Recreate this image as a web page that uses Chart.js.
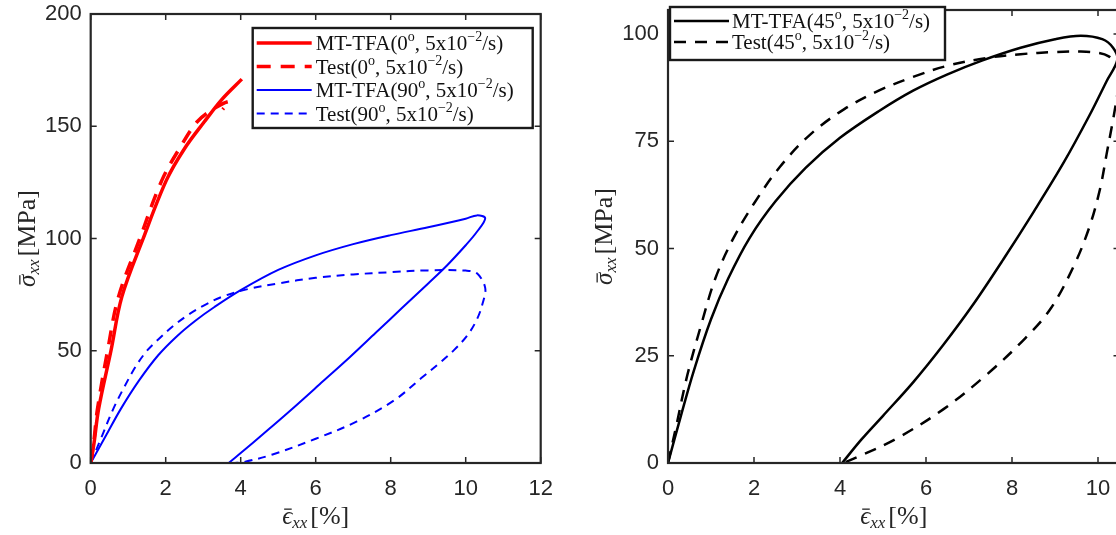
<!DOCTYPE html>
<html>
<head>
<meta charset="utf-8">
<script src="https://cdn.jsdelivr.net/npm/chart.js@4.4.0/dist/chart.umd.min.js"></script>
<style>
    html, body { margin: 0; padding: 0; background: #fff; overflow: hidden; width: 1116px; height: 535px; }
    canvas { position: absolute; top: 0; }
    #left { left: 0; }
    #right { left: 560px; }
</style>
</head>
<body>
<canvas id="left" width="560" height="535"></canvas>
<canvas id="right" width="580" height="535"></canvas>
<script>
// tick labels
const xTicksLeft = [0, 2, 4, 6, 8, 10, 12]
const yTicksLeft = [0, 50, 100, 150, 200]
const xTicksRight = [0, 2, 4, 6, 8, 10]
const yTicksRight = [0, 25, 50, 75, 100]

// series names (^{..} = superscript)
const namesLeft = [
    'MT-TFA(0^{o}, 5x10^{−2}/s)',
    'Test(0^{o}, 5x10^{−2}/s)',
    'MT-TFA(90^{o}, 5x10^{−2}/s)',
    'Test(90^{o}, 5x10^{−2}/s)',
]
const namesRight = [
    'MT-TFA(45^{o}, 5x10^{−2}/s)',
    'Test(45^{o}, 5x10^{−2}/s)',
]

// 0 deg
const mt0X = [0, 0.09, 0.21, 0.54, 0.83, 1.4, 2.02, 2.5, 3.03, 3.5, 4.03]
const mt0Y = [0, 9, 24, 50, 74, 100, 126, 140, 152, 162, 171]
const test0X = [0, 0.08, 0.18, 0.45, 0.74, 1.31, 1.9, 2.4, 2.84, 3.3, 3.69, 3.52]
const test0Y = [0, 9, 24, 50, 74, 100, 126, 141, 152, 158, 161, 157.5]

// 90 deg
const mt90X = [0, 0.4, 0.8, 1.3, 1.8, 2.3, 2.8, 3.3, 4.0, 5.0, 6.0, 7.0, 8.0, 9.0, 10.0, 10.3, 10.52, 10.3, 10.0, 9.5, 9.0, 8.3, 7.6, 6.9, 6.2, 5.5, 4.8, 4.2, 3.68]
const mt90Y = [0, 12, 24, 37, 48, 56.5, 63.5, 69.5, 77, 86, 92.5, 97.5, 101.5, 105, 108.8, 110.3, 109, 103, 97, 88, 80, 69, 58, 47, 36.5, 26, 15.8, 7.2, 0]
const test90X = [0, 0.3, 0.6, 0.9, 1.2, 1.5, 1.8, 2.2, 2.6, 3.0, 3.5, 4.2, 5.0, 6.0, 7.0, 8.0, 9.0, 10.0, 10.3, 10.52, 10.45, 10.3, 10.05, 9.7, 9.3, 8.85, 8.1, 7.1, 6.0, 4.85, 4.1, 3.8]
const test90Y = [0, 12, 24, 34, 43, 50, 55, 61, 66, 70, 74, 77.5, 80, 82.5, 84, 85, 85.8, 85.7, 84.5, 78, 71, 64, 57, 50.5, 44.5, 38.3, 28, 18.5, 10.8, 3.8, 0.5, 0]

// 45 deg
const mt45X = [0, 0.3, 0.6, 1.0, 1.4, 1.9, 2.5, 3.2, 4.0, 4.9, 5.7, 6.5, 7.3, 8.2, 9.0, 9.6, 10.1, 10.35, 10.45, 10.2, 9.8, 9.2, 8.5, 7.8, 7.1, 6.4, 5.7, 5.0, 4.5, 4.05]
const mt45Y = [0, 11, 21.5, 33.5, 43, 52.5, 61, 68.8, 75.8, 82, 86.8, 90.6, 93.8, 96.8, 98.8, 99.6, 98.8, 96.8, 94, 89, 81, 70, 58.5, 47.5, 37, 27.5, 18.8, 11, 5.5, 0]
const test45X = [0, 0.2, 0.45, 0.78, 1.1, 1.5, 2.0, 2.6, 3.3, 4.1, 4.9, 5.7, 6.5, 7.4, 8.2, 9.0, 9.6, 10.0, 10.25, 10.4, 10.5, 10.45, 10.35, 10.2, 10.05, 9.8, 9.44, 8.9, 8.3, 7.4, 6.4, 5.3, 4.5, 4.08]
const test45Y = [0, 9, 20.5, 32.5, 43, 52, 60.5, 69, 76.5, 82.5, 86.8, 90, 92.6, 94.4, 95.3, 95.8, 95.9, 95.6, 94.8, 93.2, 90, 86, 80, 72, 64, 55, 46, 36, 29, 20.5, 12.5, 5.6, 1.8, 0]

const AX = '#262626'
const SANS = '"Liberation Sans", Arial, sans-serif'
const SERIF = '"Liberation Serif", "DejaVu Serif", serif'

function pts(xs, ys) {
    return xs.map((x, i) => ({ x: x, y: ys[i] }))
}

function parseSup(str, size) {
    const parts = []
    const re = /\^\{([^}]*)\}/g
    let last = 0
    let m
    while ((m = re.exec(str))) {
        if (m.index > last) parts.push({ t: str.slice(last, m.index), size: size })
        parts.push({ t: m[1], size: Math.round(size * 0.66), dy: -size * 0.42 })
        last = re.lastIndex
    }
    if (last < str.length) parts.push({ t: str.slice(last), size: size })
    return parts
}

function fontOf(p) {
    return `${p.italic ? 'italic ' : ''}${p.size}px ${SERIF}`
}

function drawRich(ctx, parts, x, y, center) {
    let w = 0
    parts.forEach(p => {
        ctx.font = fontOf(p)
        w += ctx.measureText(p.t).width + (p.gap || 0)
    })
    let cx = center ? x - w / 2 : x
    parts.forEach(p => {
        ctx.font = fontOf(p)
        const pw = ctx.measureText(p.t).width
        ctx.fillText(p.t, cx, y + (p.dy || 0))
        if (p.bar) {
            ctx.fillRect(cx + pw * 0.2, y - p.size * 0.62, pw * 0.75, 1.3)
        }
        cx += pw + (p.gap || 0)
    })
}

function axisTitle(sym) {
    return [
        { t: sym, size: 25, italic: true, bar: true },
        { t: 'xx', size: 17, italic: true, dy: 4, gap: 3 },
    ]
}

const framePlugin = {
    id: 'frame',
    afterDatasetsDraw(chart, args, opts) {
        const ctx = chart.ctx
        const a = chart.chartArea
        const sx = chart.scales.x
        const sy = chart.scales.y
        const tl = 6
        ctx.save()
        ctx.strokeStyle = AX
        ctx.lineWidth = 1.5
        ctx.beginPath()
        sx.ticks.forEach(t => {
            const px = sx.getPixelForValue(t.value)
            ctx.moveTo(px, a.bottom); ctx.lineTo(px, a.bottom - tl)
            ctx.moveTo(px, a.top); ctx.lineTo(px, a.top + tl)
        })
        sy.ticks.forEach(t => {
            const py = sy.getPixelForValue(t.value)
            ctx.moveTo(a.left, py); ctx.lineTo(a.left + tl, py)
            ctx.moveTo(a.right, py); ctx.lineTo(a.right - tl, py)
        })
        ctx.stroke()
        ctx.lineWidth = 2.2
        ctx.strokeRect(a.left, a.top, a.right - a.left, a.bottom - a.top)

        // legend
        const lg = opts.legend
        const lx = a.left + lg.dx
        const ly = a.top + lg.dy
        ctx.fillStyle = '#fff'
        ctx.fillRect(lx, ly, lg.w, lg.h)
        ctx.lineWidth = 2.4
        ctx.strokeStyle = '#1a1a1a'
        ctx.strokeRect(lx, ly, lg.w, lg.h)
        chart.data.datasets.forEach((ds, i) => {
            const ry = ly + lg.first + i * lg.gap
            ctx.strokeStyle = ds.borderColor
            ctx.lineWidth = ds.borderWidth
            ctx.setLineDash(ds.borderDash || [])
            ctx.beginPath()
            ctx.moveTo(lx + 4, ry)
            ctx.lineTo(lx + 4 + lg.sample, ry)
            ctx.stroke()
            ctx.setLineDash([])
            ctx.fillStyle = '#111'
            ctx.textBaseline = 'alphabetic'
            drawRich(ctx, parseSup(ds.label, 21), lx + lg.textX, ry + 7, false)
        })

        // axis titles
        ctx.fillStyle = AX
        ctx.textBaseline = 'alphabetic'
        const xt = axisTitle('ϵ').concat([{ t: '[%]', size: 26 }])
        drawRich(ctx, xt, (a.left + a.right) / 2, a.bottom + 61, true)
        ctx.translate(a.left - 56, (a.top + a.bottom) / 2)
        ctx.rotate(-Math.PI / 2)
        const yt = axisTitle('σ').concat([{ t: '[MPa]', size: 26 }])
        drawRich(ctx, yt, 0, 0, true)
        ctx.restore()
    }
}

function scaleOpts(min, max, tickList, size, pad) {
    return {
        type: 'linear',
        min: min,
        max: max,
        afterBuildTicks: s => { s.ticks = tickList.map(v => ({ value: v })) },
        afterFit: s => {
            if (s.isHorizontal()) s.height = size
            else s.width = size
            s.paddingLeft = 0
            s.paddingRight = 0
            s.paddingTop = 0
            s.paddingBottom = 0
        },
        grid: { display: false, drawTicks: false },
        border: { display: false },
        ticks: {
            color: AX,
            padding: pad,
            maxRotation: 0,
            autoSkip: false,
            font: { family: SANS, size: 22 },
        },
    }
}

function line(label, data, color, width, dash) {
    return {
        label: label,
        data: data,
        showLine: true,
        borderColor: color,
        backgroundColor: color,
        borderWidth: width,
        borderDash: dash,
        pointRadius: 0,
        tension: 0.35,
        fill: false,
    }
}

Chart.defaults.devicePixelRatio = 1

new Chart(document.getElementById('left'), {
    type: 'scatter',
    data: {
        datasets: [
            line(namesLeft[0], pts(mt0X, mt0Y), '#ff0000', 3.5, []),
            line(namesLeft[1], pts(test0X, test0Y), '#ff0000', 3.5, [14, 10]),
            line(namesLeft[2], pts(mt90X, mt90Y), '#0000ff', 2, []),
            line(namesLeft[3], pts(test90X, test90Y), '#0000ff', 2, [8, 6]),
        ]
    },
    options: {
        responsive: false,
        animation: false,
        layout: { padding: { left: 0, right: 19.3, top: 14, bottom: 0 } },
        plugins: {
            legend: { display: false },
            tooltip: { enabled: false },
            frame: { legend: { dx: 162, dy: 14, w: 280, h: 100, first: 15, gap: 23.5, sample: 55, textX: 63 } },
        },
        scales: {
            x: scaleOpts(0, 12, xTicksLeft, 72, 13),
            y: scaleOpts(0, 200, yTicksLeft, 90.7, 9),
        },
    },
    plugins: [framePlugin],
})

new Chart(document.getElementById('right'), {
    type: 'scatter',
    data: {
        datasets: [
            line(namesRight[0], pts(mt45X, mt45Y), '#000000', 2.5, []),
            line(namesRight[1], pts(test45X, test45Y), '#000000', 2.5, [12, 9]),
        ]
    },
    options: {
        responsive: false,
        animation: false,
        layout: { padding: { left: 0, right: 20.5, top: 10, bottom: 0 } },
        plugins: {
            legend: { display: false },
            tooltip: { enabled: false },
            frame: { legend: { dx: 2, dy: -3, w: 275, h: 53, first: 14, gap: 21, sample: 55, textX: 62 } },
        },
        scales: {
            x: scaleOpts(0, 10.5, xTicksRight, 72, 13),
            y: scaleOpts(0, 105.6, yTicksRight, 108, 9),
        },
    },
    plugins: [framePlugin],
})
</script>
</body>
</html>
